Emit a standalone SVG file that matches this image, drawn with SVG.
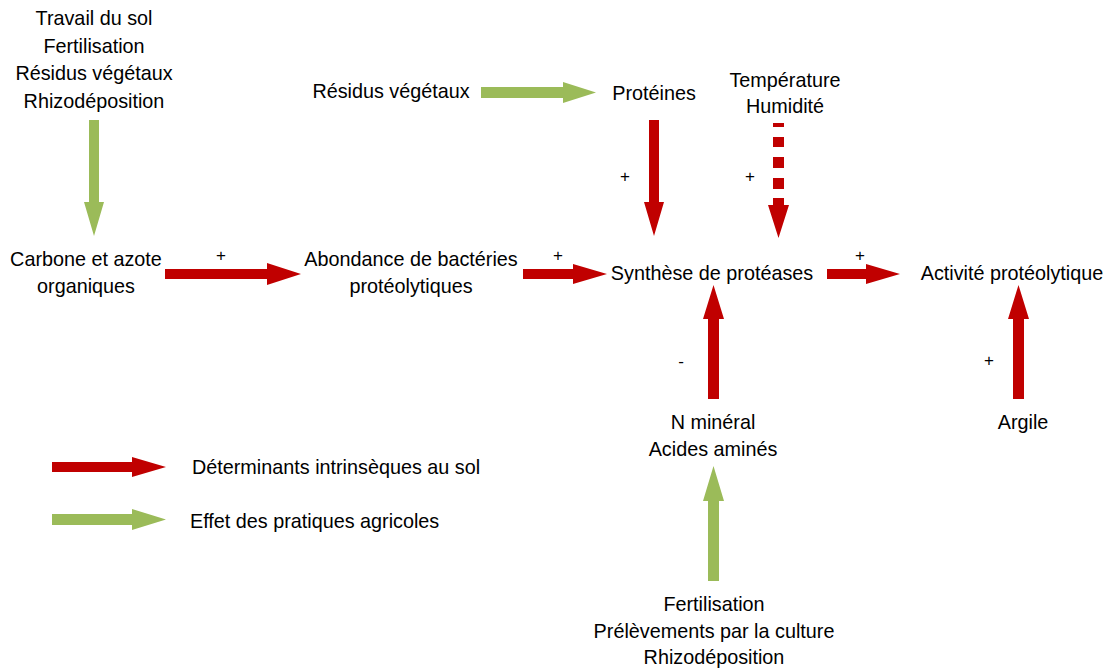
<svg xmlns="http://www.w3.org/2000/svg" width="1111" height="669" viewBox="0 0 1111 669">
<style>
text{font-family:"Liberation Sans",Arial,sans-serif;font-size:19.8px;fill:#000;text-anchor:middle}
.l{text-anchor:start}
.s{font-size:17px}
.r{fill:#C00000}
.g{fill:#9BBB59}
</style>
<rect width="1111" height="669" fill="#fff"/>
<g id="connectors">
<path class="g" d="M89,120 H99 V202 H104 L94,236 L84,202 H89 Z"/>
<path class="r" d="M165,269 H267 V263 L301,274 L267,285 V279 H165 Z"/>
<path class="g" d="M481,87 H563 V82 L596,92.5 L563,103 V98 H481 Z"/>
<path class="r" d="M649,120 H659 V202 H664 L654,236 L644,202 H649 Z"/>
<g class="r">
<rect x="773" y="123" width="11" height="4"/>
<rect x="773" y="137" width="11" height="10"/>
<rect x="773" y="157" width="11" height="11"/>
<rect x="773" y="178" width="11" height="11"/>
<path d="M773,198 H784 V205 H789 L778.5,238 L768,205 H773 Z"/>
</g>
<path class="r" d="M523,269 H573 V264 L607,274 L573,284 V279 H523 Z"/>
<path class="r" d="M827,269 H866 V264 L900,274 L866,284 V279 H827 Z"/>
<path class="r" d="M708,399 V319 H703 L713.5,285 L724,319 H719 V399 Z"/>
<path class="r" d="M1013,399 V319 H1008 L1018.5,285 L1029,319 H1024 V399 Z"/>
<path class="g" d="M708,581 V501 H703 L713.5,466 L724,501 H719 V581 Z"/>
<path class="r" d="M52,462 H132 V457 L166,467 L132,477 V472 H52 Z"/>
<path class="g" d="M52,514 H132 V509 L166,519.5 L132,530 V525 H52 Z"/>
</g>
<g id="n-pratiques"><text x="94" y="25">Travail du sol</text><text x="94" y="53">Fertilisation</text><text x="94" y="80">Résidus végétaux</text><text x="94" y="108">Rhizodéposition</text></g>
<g id="n-carbone"><text x="86" y="266">Carbone et azote</text><text x="86" y="293">organiques</text></g>
<g id="n-abondance"><text x="411" y="266">Abondance de bactéries</text><text x="411" y="293">protéolytiques</text></g>
<g id="n-synthese"><text x="712" y="280">Synthèse de protéases</text></g>
<g id="n-activite"><text x="1012" y="280">Activité protéolytique</text></g>
<g id="n-residus"><text x="391" y="98">Résidus végétaux</text></g>
<g id="n-proteines"><text x="654" y="100">Protéines</text></g>
<g id="n-temp"><text x="785" y="87">Température</text><text x="785" y="113">Humidité</text></g>
<g id="n-nmineral"><text x="713" y="429">N minéral</text><text x="713" y="456">Acides aminés</text></g>
<g id="n-argile"><text x="1023" y="429">Argile</text></g>
<g id="n-fertil"><text x="714" y="611">Fertilisation</text><text x="714" y="638">Prélèvements par la culture</text><text x="714" y="664">Rhizodéposition</text></g>
<g id="legend"><text class="l" x="192" y="474">Déterminants intrinsèques au sol</text><text class="l" x="190" y="528">Effet des pratiques agricoles</text></g>
<g id="signs">
<text class="s" x="221" y="261">+</text><text class="s" x="558" y="261">+</text><text class="s" x="860" y="261">+</text>
<text class="s" x="625" y="182">+</text><text class="s" x="750" y="182">+</text>
<text class="s" x="681" y="367">-</text><text class="s" x="989" y="366">+</text>
</g>
</svg>
